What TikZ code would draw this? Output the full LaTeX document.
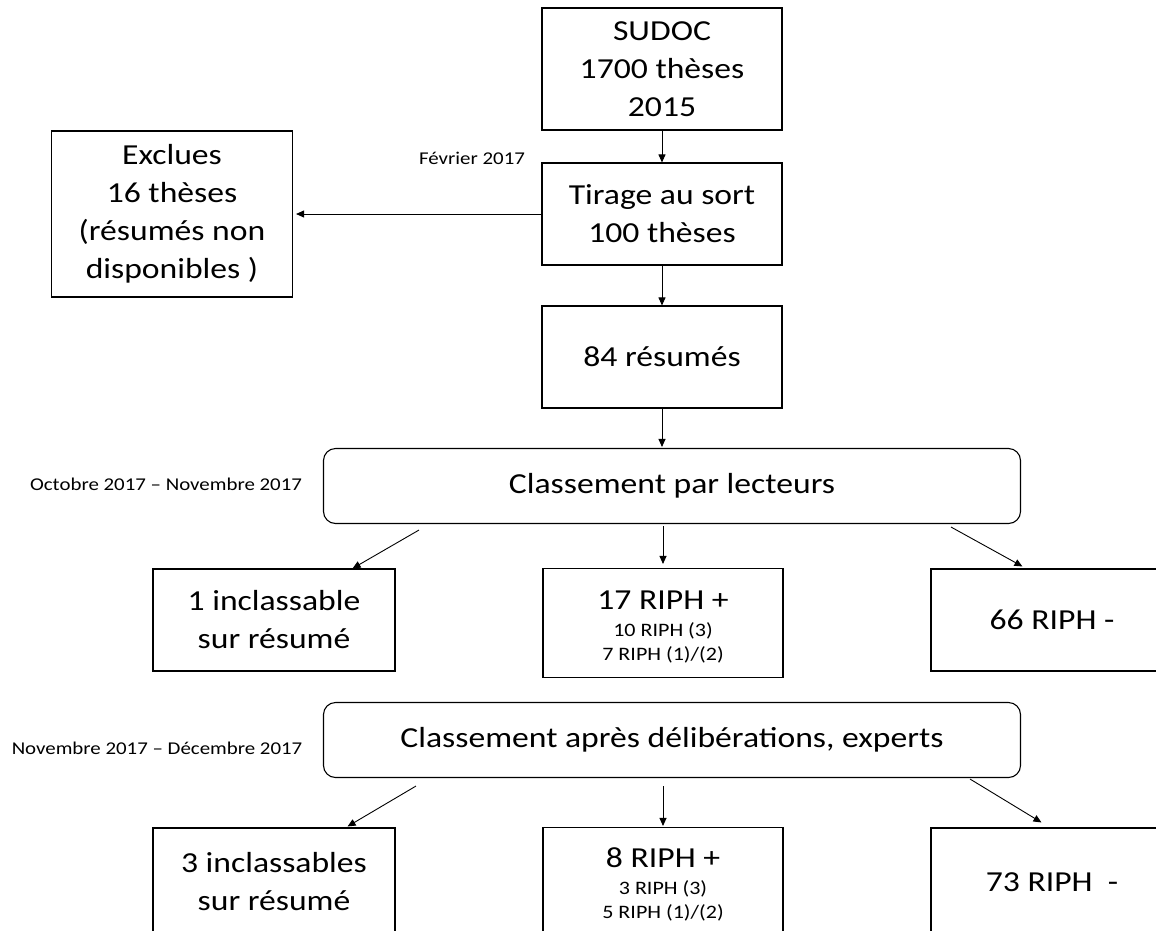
\documentclass[tikz,border=0pt]{standalone}
\usepackage{fontspec}
\setmainfont[FakeStretch=1.16]{Carlito}
\usetikzlibrary{arrows.meta}

\tikzset{
  box/.style={draw, line width=1.1pt, align=center, inner sep=0pt,
    minimum width=240pt, minimum height=102pt, font=\fontsize{29}{38}\selectfont},
  roundbox/.style={box, rounded corners=12pt, minimum width=697pt, minimum height=75pt},
  ripbox/.style={box, minimum height=109pt, font=\fontsize{19}{24}\selectfont},
  flow/.style={-{Triangle[length=8pt,width=7pt]}, line width=0.9pt},
  date/.style={font=\fontsize{18}{22}\selectfont}
}

\begin{document}
\begin{tikzpicture}[x=1pt, y=-1pt]
            \clip (0,0) rectangle (1156,930);

            \node[box, minimum height=122pt] (sudoc) at (662,69) {SUDOC\\1700 thèses\\2015};
            \node[box] (tirage) at (662,214) {Tirage au sort\\100 thèses};
            \node[box] (resumes) at (662,357) {84 résumés};
            \node[box, minimum width=241pt, minimum height=166pt] (exclues) at (172,214) {Exclues\\16 thèses\\(résumés non\\disponibles )};
            \node[date] (fevrier) at (472,158) {Février 2017};

            \node[roundbox] (lecteurs) at (672,486) {Classement par lecteurs};
            \node[date] (octobre) at (166,484) {Octobre 2017 – Novembre 2017};

            \node[box, minimum width=242pt] (inclA) at (274,620) {1 inclassable\\sur résumé};
            \node[ripbox] (plusA) at (663,623) {\rule{0pt}{27pt}{\fontsize{29}{38}\selectfont 17 RIPH +}\\[3pt]10 RIPH (3)\\7 RIPH (1)/(2)};
            \node[box, minimum width=242pt] (moinsA) at (1052,620) {66 RIPH -};

            \node[roundbox] (experts) at (672,740) {Classement après délibérations, experts};
            \node[date] (novembre) at (157,748) {Novembre 2017 – Décembre 2017};

            \node[box, minimum width=242pt, minimum height=108pt] (inclB) at (274,882) {3 inclassables\\sur résumé};
            \node[ripbox] (plusB) at (663,882) {\rule{0pt}{25pt}{\fontsize{29}{38}\selectfont 8 RIPH +}\\[3pt]3 RIPH (3)\\5 RIPH (1)/(2)};
            \node[box, minimum width=242pt, minimum height=108pt] (moinsB) at (1052,882) {73 RIPH\ \ -};

            \draw[flow] (sudoc) -- (tirage);
            \draw[flow, shorten >=3pt] (tirage) -- (exclues);
            \draw[flow] (tirage) -- (resumes);
            \draw[flow, shorten >=1pt] (resumes.south) -- (resumes.south |- lecteurs.north);

            \draw[flow] ([xshift=96pt,yshift=-6pt]lecteurs.south west) -- ([xshift=-43pt]inclA.north east);
            \draw[flow, shorten <=2pt, shorten >=4pt] (plusA.north |- lecteurs.south) -- (plusA.north);
            \draw[flow] ([xshift=-70pt,yshift=-3pt]lecteurs.south east) -- ([xshift=92pt,yshift=2pt]moinsA.north west);

            \draw[flow] ([xshift=93pt,yshift=-8pt]experts.south west) -- ([xshift=-48pt,yshift=1pt]inclB.north east);
            \draw[flow, shorten <=8pt, shorten >=1pt] (plusB.north |- experts.south) -- (plusB.north);
            \draw[flow] ([xshift=-51pt,yshift=-1pt]experts.south east) -- ([xshift=111pt,yshift=5pt]moinsB.north west);
\end{tikzpicture}
\end{document}
